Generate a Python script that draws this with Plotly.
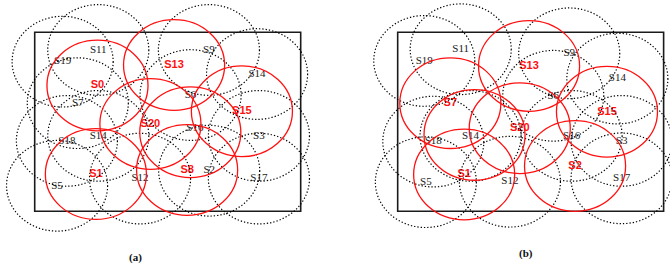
import plotly.graph_objects as go

# Field: 100 x 75 units, sensing radius 19 units
FIELD_W = 100
FIELD_H = 75
RADIUS = 19

# ---- Panel (a) ----
a_black_names = ["S11", "S9", "S19", "S14", "S6", "S7", "S18", "S14", "S16", "S3", "S5", "S12", "S2", "S17"]
a_black_x = [23.9, 65.5, 10.5, 83.6, 58.6, 16.2, 12.1, 23.9, 60.2, 84.3, 8.4, 39.6, 65.6, 84.3]
a_black_y = [67.6, 67.6, 62.7, 57.5, 48.7, 45.3, 29.5, 31.6, 34.9, 31.6, 10.7, 13.7, 17.0, 13.7]
a_black_circle = [True, True, True, True, True, True, True, True, False, True, True, True, True, True]

a_red_names = ["S0", "S13", "S20", "S15", "S1", "S8", ""]
a_red_x = [23.6, 52.4, 43.5, 77.9, 23.0, 57.3, 58.5]
a_red_y = [52.7, 61.3, 36.6, 41.9, 15.6, 17.3, 33.1]

# ---- Panel (b) ----
b_black_names = ["S11", "S19", "S9", "S14", "S6", "S18", "S14", "S5", "S12", "S16", "S3", "S17"]
b_black_x = [23.7, 10.0, 64.5, 82.6, 58.5, 13.4, 27.4, 10.6, 42.2, 65.4, 84.2, 84.2]
b_black_y = [67.9, 63.0, 66.2, 55.6, 48.4, 29.2, 31.6, 12.2, 12.4, 31.6, 29.5, 13.8]
b_black_circle = [True] * len(b_black_names)

b_red_names = ["S7", "S13", "S20", "S15", "S1", "S2", ""]
b_red_x = [19.8, 49.4, 45.9, 78.7, 25.0, 66.7, 28.9]
b_red_y = [45.3, 60.9, 34.8, 41.7, 15.4, 19.0, 32.0]

captions = ["(a)", "(b)"]

fig = go.Figure()
shapes = []

panels = [
    ("x", "y", a_black_names, a_black_x, a_black_y, a_black_circle, a_red_names, a_red_x, a_red_y),
    ("x2", "y2", b_black_names, b_black_x, b_black_y, b_black_circle, b_red_names, b_red_x, b_red_y),
]

for xr, yr, bn, bx, by, bc, rn, rx, ry in panels:
    # field rectangle
    shapes.append(dict(type="rect", xref=xr, yref=yr, x0=0, y0=0, x1=FIELD_W, y1=FIELD_H,
                       line=dict(color="#1a1a1a", width=1.6), layer="below"))
    for cx, cy, has in zip(bx, by, bc):
        if has:
            shapes.append(dict(type="circle", xref=xr, yref=yr,
                               x0=cx - RADIUS, x1=cx + RADIUS, y0=cy - RADIUS, y1=cy + RADIUS,
                               line=dict(color="#000000", width=1.2, dash="1.3px,2px")))
    for cx, cy in zip(rx, ry):
        shapes.append(dict(type="circle", xref=xr, yref=yr,
                           x0=cx - RADIUS, x1=cx + RADIUS, y0=cy - RADIUS, y1=cy + RADIUS,
                           line=dict(color="#ff1010", width=1.3)))
    fig.add_trace(go.Scatter(x=bx, y=by, text=bn, mode="text", xaxis=xr, yaxis=yr,
                             textfont=dict(family="Liberation Serif", size=11, color="#1a1a1a"),
                             hoverinfo="skip", showlegend=False))
    fig.add_trace(go.Scatter(x=rx, y=ry, text=rn, mode="text", xaxis=xr, yaxis=yr,
                             textfont=dict(family="Liberation Sans", size=11, color="#ff1010",
                                           weight="bold"),
                             hoverinfo="skip", showlegend=False))

annotations = [
    dict(text="<b>" + captions[0] + "</b>", xref="paper", yref="paper", x=0.2015, y=0.041,
         xanchor="center", yanchor="middle", showarrow=False,
         font=dict(family="Liberation Serif", size=11, color="#111111")),
    dict(text="<b>" + captions[1] + "</b>", xref="paper", yref="paper", x=0.785, y=0.056,
         xanchor="center", yanchor="middle", showarrow=False,
         font=dict(family="Liberation Serif", size=11, color="#111111")),
]

axis_common = dict(visible=False, showgrid=False, zeroline=False, fixedrange=True)
fig.update_layout(
    width=670, height=269,
    margin=dict(l=0, r=0, t=0, b=0),
    paper_bgcolor="white", plot_bgcolor="white",
    shapes=shapes, annotations=annotations,
    xaxis=dict(domain=[0, 0.5], range=[-13.05, 112.9], **axis_common),
    yaxis=dict(domain=[0, 1], range=[-24.18, 88.53], **axis_common),
    xaxis2=dict(domain=[0.5, 1], range=[-23.57, 102.4], **axis_common),
    yaxis2=dict(domain=[0, 1], range=[-24.18, 88.53], anchor="x2", **axis_common),
)

fig.write_html("out.html", config={"displayModeBar": False},
               post_script="document.body.style.margin='0px';document.body.style.overflow='hidden';")
